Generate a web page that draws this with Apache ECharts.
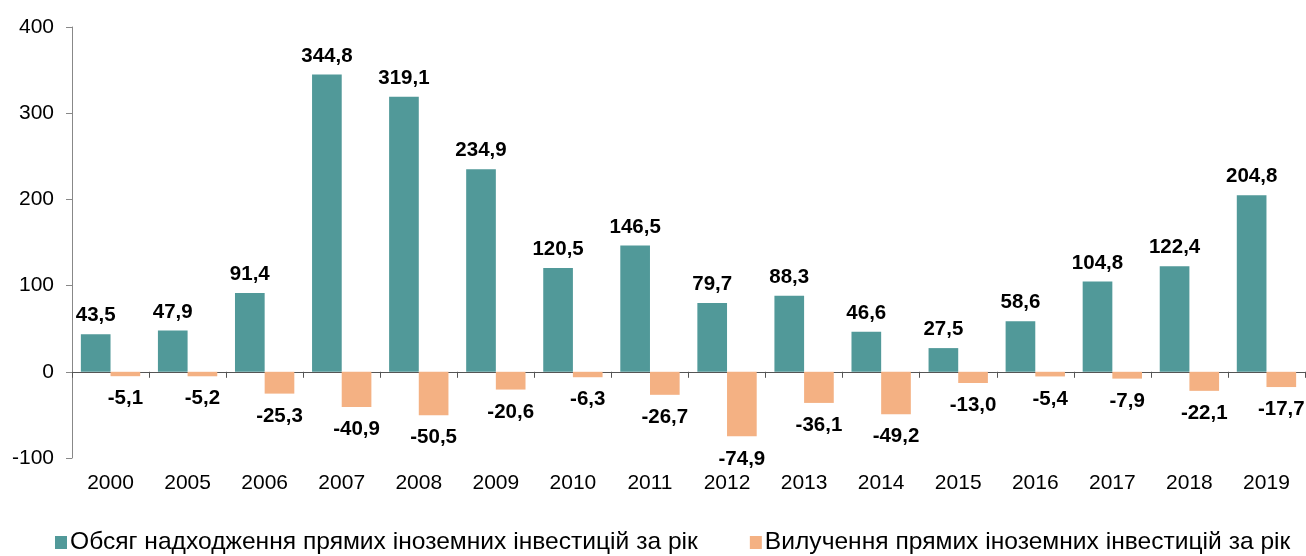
<!DOCTYPE html>
<html>
<head>
<meta charset="utf-8">
<script src="https://cdn.jsdelivr.net/npm/echarts@6/dist/echarts.min.js"></script>
<style>
html, body { margin: 0; padding: 0; background: #fff; }
#chart { width: 1306px; height: 556px; }
</style>
</head>
<body>
<div id="chart"></div>
<script>
var years = ['2000','2005','2006','2007','2008','2009','2010','2011','2012','2013','2014','2015','2016','2017','2018','2019'];
var inflow = [43.5, 47.9, 91.4, 344.8, 319.1, 234.9, 120.5, 146.5, 79.7, 88.3, 46.6, 27.5, 58.6, 104.8, 122.4, 204.8];
var outflow = [-5.1, -5.2, -25.3, -40.9, -50.5, -20.6, -6.3, -26.7, -74.9, -36.1, -49.2, -13.0, -5.4, -7.9, -22.1, -17.7];
var inflowName = 'Обсяг надходження прямих іноземних інвестицій за рік';
var outflowName = 'Вилучення прямих іноземних інвестицій за рік';

var font = "'Liberation Sans', Arial, sans-serif";
function fmt(p) {
    return p.value.toFixed(1).replace('.', ',');
}

var option = {
    animation: false,
    textStyle: {fontFamily: font},
    color: ['#519999', '#F4B183'],
    grid: {left: 72, right: 1, top: 27, bottom: 98},
    legend: {
        data: [inflowName, outflowName],
        left: 50,
        top: 525,
        itemWidth: 12,
        itemHeight: 13,
        itemGap: 52,
        icon: 'rect',
        textStyle: {
            fontSize: 24.6,
            color: '#000',
            padding: [0, 0, 0, -2],
            fontFamily: "'Liberation Sans Narrow', 'Arial Narrow', " + font
        }
    },
    xAxis: [
        {
            type: 'category',
            data: years,
            axisLine: {onZero: true, lineStyle: {color: '#555', width: 1}},
            axisTick: {show: true, length: 6, lineStyle: {color: '#555'}},
            axisLabel: {show: false}
        },
        {
            type: 'category',
            data: years,
            position: 'bottom',
            axisLine: {show: false},
            axisTick: {show: false},
            axisLabel: {margin: 15, fontSize: 21, color: '#000', fontFamily: font}
        }
    ],
    yAxis: {
        type: 'value',
        min: -100,
        max: 400,
        interval: 100,
        splitLine: {show: false},
        axisLine: {show: true, lineStyle: {color: '#888'}},
        axisTick: {show: true, length: 6, lineStyle: {color: '#888'}},
        axisLabel: {margin: 18, fontSize: 21, color: '#000', fontFamily: font}
    },
    series: [
        {
            name: inflowName,
            type: 'bar',
            xAxisIndex: 0,
            data: inflow,
            barCategoryGap: '23%',
            barGap: 0,
            label: {
                show: true,
                position: 'top',
                distance: 8,
                formatter: fmt,
                fontSize: 20.5,
                fontWeight: 'bold',
                color: '#000',
                fontFamily: font
            }
        },
        {
            name: outflowName,
            type: 'bar',
            xAxisIndex: 0,
            data: outflow,
            barCategoryGap: '23%',
            barGap: 0,
            label: {
                show: true,
                position: 'bottom',
                distance: 12,
                formatter: fmt,
                fontSize: 20.5,
                fontWeight: 'bold',
                color: '#000',
                fontFamily: font
            }
        }
    ]
};
var myChart = echarts.init(document.getElementById('chart'));
myChart.setOption(option);
</script>
</body>
</html>
